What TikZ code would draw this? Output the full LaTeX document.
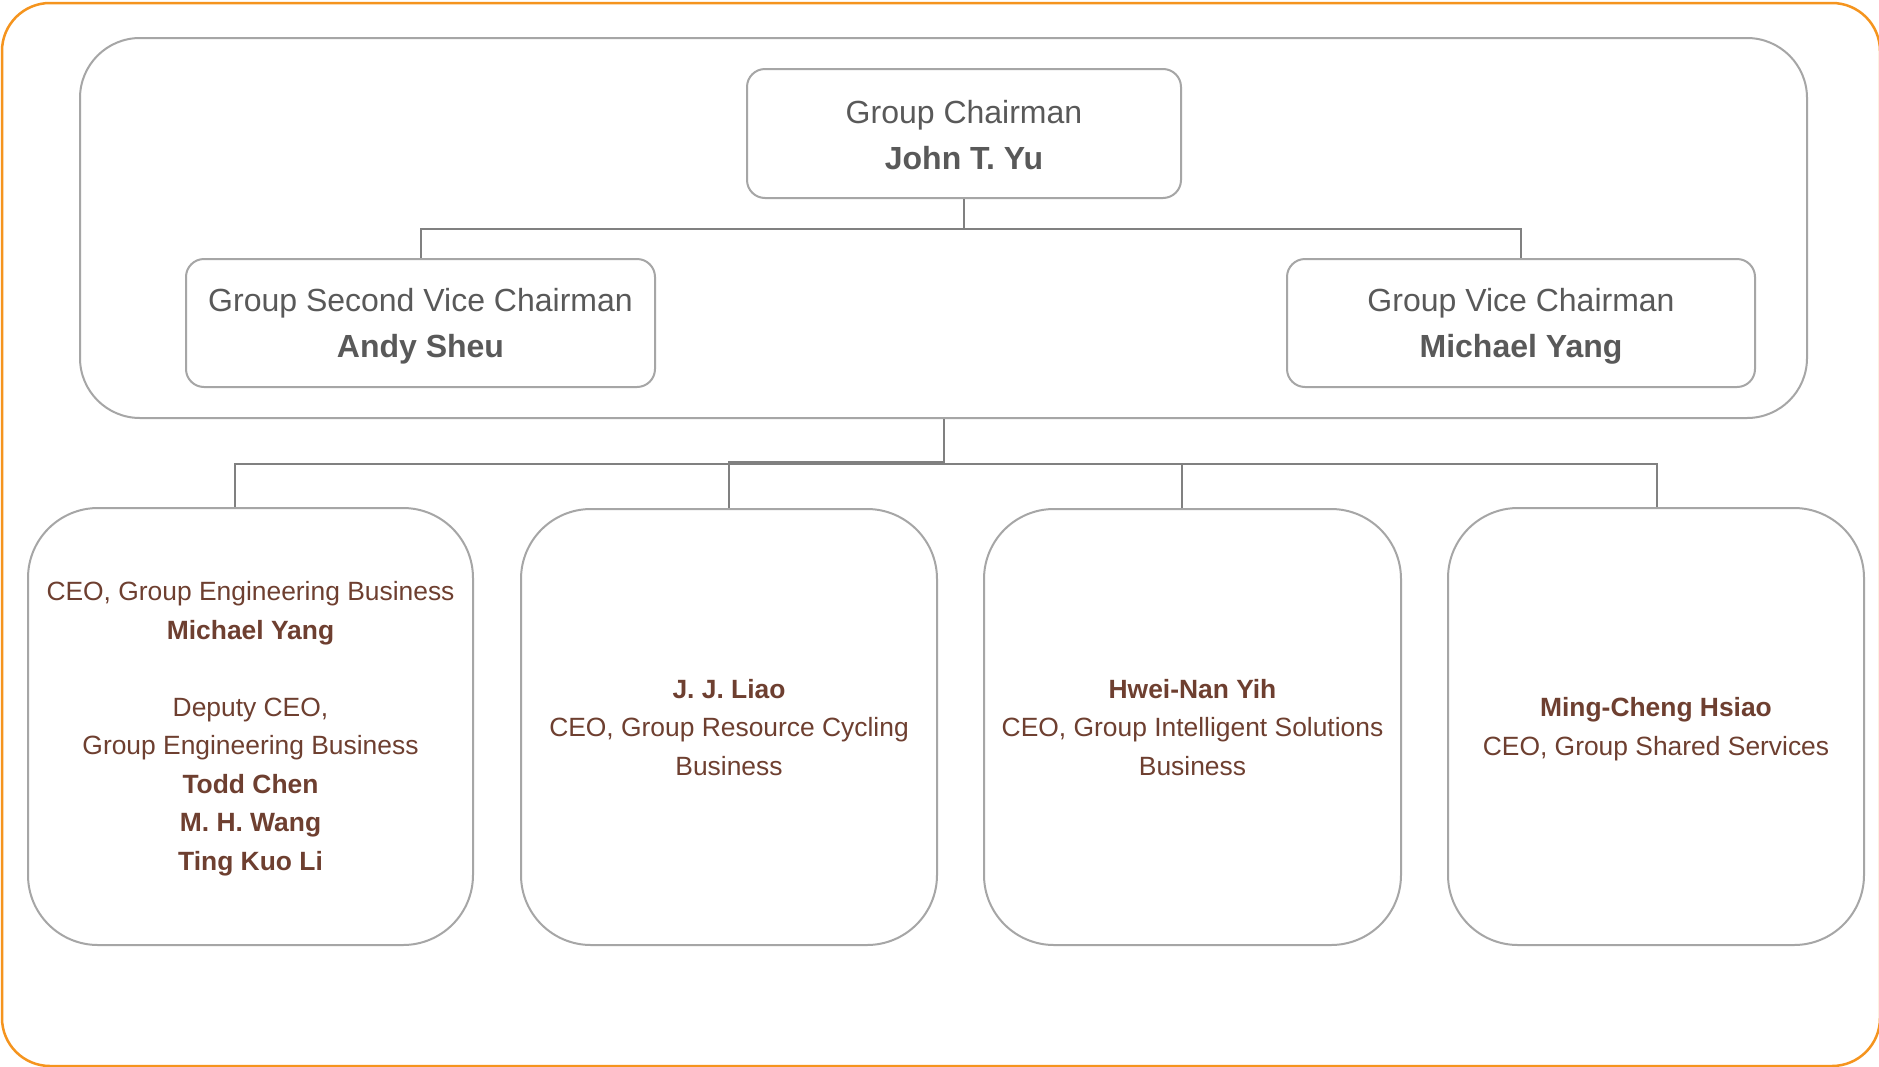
\documentclass[tikz,border=0pt]{standalone}
\usepackage{fontspec}
\setmainfont{Liberation Sans}
\usetikzlibrary{calc}
\definecolor{txtgray}{HTML}{595959}
\definecolor{txtbrown}{HTML}{6E3F30}
\definecolor{boxgray}{HTML}{A6A6A6}
\definecolor{linegray}{HTML}{808080}
\definecolor{frameorange}{HTML}{F5941E}
\begin{document}
\begin{tikzpicture}[x=0.5pt,y=-0.5pt,
  topbox/.style={draw=boxgray, line width=1pt, rounded corners=9pt, inner sep=0pt,
    align=center, text=txtgray, font=\fontsize{16}{22.75}\selectfont, text depth=0pt},
  ceobox/.style={draw=boxgray, line width=1pt, rounded corners=35pt, inner sep=0pt,
    align=center, text=txtbrown, font=\fontsize{13.2}{19.25}\selectfont, text depth=0pt},
  boardbox/.style={draw=boxgray, line width=1pt, rounded corners=30pt, inner sep=0pt},
  conn/.style={draw=linegray, line width=1pt}]
\useasboundingbox (0,0) rectangle (1879,1066);
\fill[white] (0,0) rectangle (1879,1066);
\draw[frameorange, line width=1.25pt, rounded corners=24pt] (2,3) rectangle (1880,1066);

\node[boardbox, minimum width=863.5pt, minimum height=190pt] (board) at (943.5,228) {};

\node[topbox, minimum width=217pt, minimum height=64.5pt, text height=35.5pt] (chair) at (964,133.5)
  {Group Chairman\\\textbf{John T. Yu}};
\node[topbox, minimum width=234.5pt, minimum height=64pt, text height=34pt] (svc) at (420.5,323)
  {Group Second Vice Chairman\\\textbf{Andy Sheu}};
\node[topbox, minimum width=234pt, minimum height=64pt, text height=34pt] (vc) at (1521,323)
  {Group Vice Chairman\\\textbf{Michael Yang}};

\node[ceobox, minimum width=222.5pt, minimum height=218.5pt, text height=143.5pt] (ceo1) at (250.5,726.5)
  {CEO, Group Engineering Business\\\textbf{Michael Yang}\\[19.25pt]Deputy CEO,\\Group Engineering Business\\\textbf{Todd Chen}\\\textbf{M. H. Wang}\\\textbf{Ting Kuo Li}};
\node[ceobox, minimum width=208pt, minimum height=218pt, text height=48pt] (ceo2) at (729,727)
  {\textbf{J. J. Liao}\\CEO, Group Resource Cycling\\Business};
\node[ceobox, minimum width=208.5pt, minimum height=218pt, text height=48pt] (ceo3) at (1192.5,727)
  {\textbf{Hwei-Nan Yih}\\CEO, Group Intelligent Solutions\\Business};
\node[ceobox, minimum width=208pt, minimum height=218.5pt, text height=28.5pt] (ceo4) at (1656,726.5)
  {\textbf{Ming-Cheng Hsiao}\\CEO, Group Shared Services};

\draw[conn] (chair.south) -- ++(0,30) -| (svc.north);
\draw[conn] (chair.south) -- ++(0,30) -| (vc.north);

\draw[conn] (board.south) -- ++(0,43) -| (ceo2.north);
\draw[conn] (board.south) -- ++(0,45) -| ($(ceo1.north)+(-15.5,0)$);
\draw[conn] (board.south) -- ++(0,45) -| ($(ceo3.north)+(-10.5,0)$);
\draw[conn] (board.south) -- ++(0,45) -| ($(ceo4.north)+(1,0)$);
\end{tikzpicture}
\end{document}
